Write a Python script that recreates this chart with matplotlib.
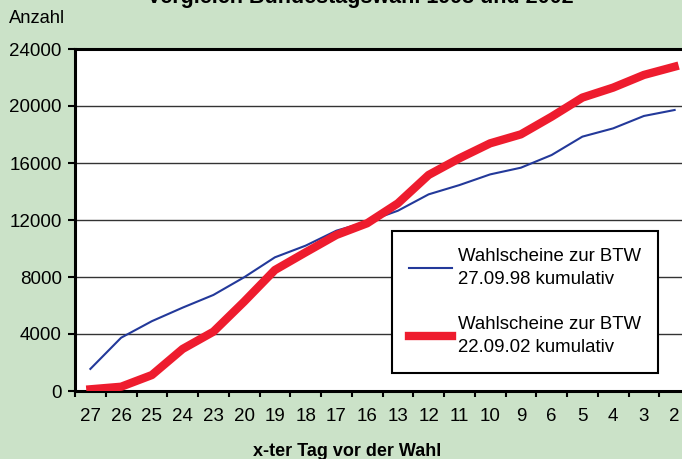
import matplotlib
matplotlib.use("Agg")
import matplotlib.pyplot as plt
from matplotlib.ticker import FixedLocator

days = ["27", "26", "25", "24", "23", "20", "19", "18", "17", "16",
        "13", "12", "11", "10", "9", "6", "5", "4", "3", "2"]
btw1998 = [1550, 3740, 4900, 5850, 6740, 7980, 9380, 10200, 11250, 11880,
           12650, 13800, 14450, 15200, 15670, 16560, 17850, 18430, 19300, 19720]
btw2002 = [120, 300, 1120, 2950, 4160, 6270, 8490, 9730, 10950, 11770,
           13170, 15160, 16330, 17380, 18010, 19250, 20590, 21290, 22180, 22760]
yticks = [0, 4000, 8000, 12000, 16000, 20000, 24000]

plt.rcParams['font.family'] = ['Liberation Sans', 'DejaVu Sans']

W, H = 682, 459
fig = plt.figure(figsize=(W/100, H/100), dpi=100)
fig.patch.set_facecolor('#cbe2c8')

n = len(days)
left = 75 / W
bottom = (H - 391) / H
height = (391 - 49) / H
cw = 30.75
width = n * cw / W
ax = fig.add_axes([left, bottom, width, height])
ax.set_facecolor('white')

x = list(range(n))
ax.plot(x, btw1998, color='#23399a', lw=1.5, solid_joinstyle='round',
        label='Wahlscheine zur BTW\n27.09.98 kumulativ', zorder=3)
ax.plot(x, btw2002, color='#ee1c2e', lw=6, solid_joinstyle='round',
        label='Wahlscheine zur BTW\n22.09.02 kumulativ', zorder=4)

ax.set_xlim(-0.5, n - 0.5)
ax.set_ylim(0, 24000)
ax.set_yticks(yticks)
ax.set_yticklabels([str(v) for v in yticks])
ax.set_xticks(x)
ax.set_xticklabels(days)
ax.xaxis.set_minor_locator(FixedLocator([i - 0.5 for i in range(n + 1)]))
ax.tick_params(axis='x', which='major', length=0, pad=12.5, labelsize=13.5)
ax.tick_params(axis='x', which='minor', length=4, width=1.5, direction='out')
ax.tick_params(axis='y', length=5, width=1.5, direction='out', labelsize=13.5, pad=4.5)
ax.grid(axis='y', color='#333333', lw=1)
for s in ['left', 'bottom', 'top']:
    ax.spines[s].set_linewidth(2.2)
    ax.spines[s].set_color('black')
ax.spines['right'].set_visible(False)

leg = ax.legend(loc='upper left', bbox_to_anchor=((392 - 75) / (n * cw), (391 - 231) / 342),
                fontsize=13.4, frameon=True, fancybox=False, edgecolor='black',
                framealpha=1, handlelength=2.35, labelspacing=1.55, borderpad=0.9,
                handletextpad=0.3, borderaxespad=0)
for t in leg.get_texts():
    t.set_linespacing(1.45)
leg.get_frame().set_linewidth(1.5)

fig.text(9 / W, 1 - 18.5 / H, 'Anzahl', fontsize=13.2, ha='left', va='center')
fig.text(360 / W, 1 - 3 / H, 'Vergleich Bundestagswahl 1998 und 2002', fontsize=15.5,
         fontweight='bold', ha='center', va='baseline')
fig.text(347 / W, 1 - 456.5 / H, 'x-ter Tag vor der Wahl', fontsize=13,
         fontweight='bold', ha='center', va='baseline')

fig.savefig('out.png', dpi=100, facecolor=fig.get_facecolor())
